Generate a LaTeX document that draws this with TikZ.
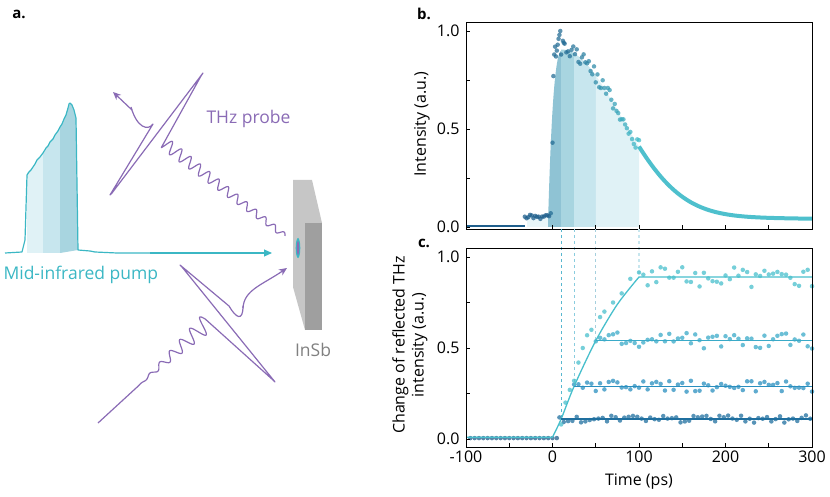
\documentclass[tikz,border=0pt]{standalone}
\usepackage{fontspec}
\setmainfont{Open Sans}
\usetikzlibrary{arrows.meta}
\definecolor{cA}{HTML}{1F5F8C}
\definecolor{cB}{HTML}{44BDCA}
\definecolor{pur}{HTML}{8A6BB5}
\definecolor{cyn}{HTML}{3BB7C4}
\definecolor{s1}{HTML}{8FC3D4}
\definecolor{s2}{HTML}{A8D5E0}
\definecolor{s3}{HTML}{C7E6EE}
\definecolor{s4}{HTML}{E0F2F6}
\definecolor{l1}{HTML}{1F6F9F}
\definecolor{l2}{HTML}{2A8FBF}
\definecolor{l3}{HTML}{3AAAC8}
\definecolor{l4}{HTML}{48BFCC}
\begin{document}
\begin{tikzpicture}[x=1pt,y=-1pt,
  declare function={bx(\t)=552.5+0.865*\t; by(\v)=227-196*\v; cy(\v)=439-182*\v;
    g(\t)=0.035+0.05*exp(-(\t-12)/150)+0.82*exp(-((\t-12)/95)^2);
    ua(\s)=2.5+0.025*\s; la(\s)=max(0,\s-55)*0.1;},
  lbl/.style={font=\fontsize{16}{19}\selectfont},
  albl/.style={font=\fontsize{17.5}{20}\selectfont},
  tick/.style={font=\fontsize{16}{19}\selectfont},
  panel/.style={font=\bfseries\fontsize{15}{18}\selectfont},
  wave/.style={pur,line width=1.2pt,line join=round},
  dot/.style={circle,inner sep=0pt,minimum size=4.5pt,opacity=0.75}]
\useasboundingbox (0,0) rectangle (830,497);
\pgfmathsetseed{7}
% ---------- panel labels
\node[panel] (pa) at (19,14) {a.};
\node[panel] (pb) at (424,14) {b.};
\node[panel] (pc) at (424,243) {c.};
% ---------- panel a: pump spectrum
\fill[s4] (27,253) -- (27,173) -- (35,164) -- (43,153) -- (43,253) -- cycle;
\fill[s3] (43,253) -- (43,153) -- (50,142) -- (55,135) -- (60,127) -- (60,253) -- cycle;
\fill[s2] (60,253) -- (60,127) -- (65,117) -- (68,108) -- (70,103) -- (72,105) -- (74,110) -- (76,118) -- (78,250) -- cycle;
\draw[cyn,line width=1.2pt,line join=round] (5,253) -- (22,252) -- (25,240) -- (27,175) -- (29,172) -- (31,170) -- (33,167) -- (35,164) -- (37,160) -- (40,157) -- (43,153) -- (46,148) -- (48,146) -- (50,142) -- (53,139) -- (55,135) -- (58,131) -- (60,127) -- (62,124) -- (64,119) -- (66,115) -- (68,108) -- (69,104) -- (70,103) -- (72,105) -- (74,110) -- (76,118) -- (78,250) -- (90,251) -- (95,252) -- (117,253) -- (150,253);
\coordinate (pumpS) at (150,253);
\coordinate (pumpE) at (272,253);
\draw[cyn,line width=1.2pt,-{Triangle[length=8pt,width=7pt]}] (pumpS) -- (pumpE);
\node[cyn,albl,anchor=west] (pump) at (0,275) {Mid-infrared pump};
% ---------- THz probe (upper, reflected)
\draw[wave] plot[domain=0:152,samples=300,smooth] ({285-0.792*\x+0.610*ua(\x)*sin(\x*30)},{236-0.610*\x-0.792*ua(\x)*sin(\x*30)})
  -- (201,76) -- (203,73) -- (112,193) -- (110,195) -- (153,124)
  .. controls (148,131) and (137,128) .. (131,107);
\draw[wave,-{Stealth[length=8pt,width=7pt]}] (132,110) -- (113,92);
\node[pur,albl,anchor=west] (thz) at (203,119) {THz probe};
% ---------- THz probe (lower, incident)
\draw[wave] plot[domain=0:149,samples=300,smooth] ({98+0.738*\x+0.678*la(\x)*sin(\x*24)},{423-0.678*\x+0.738*la(\x)*sin(\x*24)})
  -- (273,380) -- (275,382) -- (182,267) -- (180,265) -- (229,306)
  .. controls (236,318) and (243,322) .. (243,306);
\draw[wave,-{Stealth[length=8pt,width=7pt]}] (243,308) .. controls (244,290) and (262,285) .. (287,268);
% ---------- InSb
\fill[gray!45] (293,180) -- (312,180) -- (322,223) -- (305,223) -- (305,330) -- (293,287) -- cycle;
\fill[gray!75] (305,223) rectangle (322,330);
\fill[cyn] (298,248) ellipse (2.3pt and 10pt);
\fill[pur] (298,248) ellipse (1.1pt and 7pt);
\node[gray,albl] (insb) at (313,350) {InSb};
% ---------- panel b
\fill[s4!70] ({bx(-30)},{by(0)}) -- ({bx(-30)},{by(0.05)}) -- ({bx(-3)},{by(0.05)}) -- ({bx(-3)},{by(0)}) -- cycle;
\fill[s1] ({bx(-5)},{by(0)}) -- ({bx(-5)},{by(0.05)}) .. controls ({bx(-2)},{by(0.5)}) and ({bx(2)},{by(0.88)}) .. ({bx(10)},{by(0.9)}) -- ({bx(10)},{by(0)}) -- cycle;
\fill[s2] plot[domain=10:25,samples=10] ({bx(\x)},{by(g(\x))}) -- ({bx(25)},{by(0)}) -- ({bx(10)},{by(0)}) -- cycle;
\fill[s3] plot[domain=25:50,samples=10] ({bx(\x)},{by(g(\x))}) -- ({bx(50)},{by(0)}) -- ({bx(25)},{by(0)}) -- cycle;
\fill[s4] plot[domain=50:100,samples=15] ({bx(\x)},{by(g(\x))}) -- ({bx(100)},{by(0)}) -- ({bx(50)},{by(0)}) -- cycle;
\draw[cA,line width=2.5pt] ({bx(-100)},{by(0.005)}) -- ({bx(-32)},{by(0.005)});
\foreach \t in {-32,-30,...,-4} {\node[dot,fill=cA] at ({bx(\t)},{by(0.05+0.012*rand)}) {};}
\foreach \t/\v in {-2/0.07,0/0.43,1/0.77,2/0.88,3/0.92,4/0.87,5/0.9,6/0.93,7/0.96,8/0.98,9/1.0,10/0.88,12/0.95,13/0.94} {\node[dot,fill=cA!85!cB] at ({bx(\t)},{by(\v)}) {};}
\foreach \t in {14,16,...,100} {\pgfmathsetmacro\p{\t}\node[dot,fill=cB!\p!cA] at ({bx(\t)},{by(g(\t)+0.035*rand)}) {};}
\draw[cB,line width=4pt,opacity=0.95] plot[domain=100:300,samples=60,smooth] ({bx(\x)},{by(g(\x))});
\draw[line width=0.8pt] (466,22) rectangle (812,229);
\foreach \t in {0,50,...,300} {\draw[line width=0.6pt] ({bx(\t)},229) -- ({bx(\t)},225);}
\foreach \v in {0,0.25,0.5,0.75,1} {\draw[line width=0.6pt] (466,{by(\v)}) -- (470,{by(\v)});}
\foreach \v/\s in {0/0.0,0.5/0.5,1/1.0} {\node[tick,anchor=east] at (463,{by(\v)}) {\s};}
\node[lbl,rotate=90] (ylb) at (422,124) {Intensity (a.u.)};
% ---------- dashed guides
\foreach \t/\v/\c in {10/0.11/l3!85,25/0.29/l3!60,50/0.54/s1!80,100/0.89/s3} {\draw[\c,dashed,line width=1.1pt] ({bx(\t)},229) -- ({bx(\t)},{cy(\v)});}
% ---------- panel c
\foreach \t in {-95,-90,...,5} {\node[dot,fill=cA] at ({bx(\t)},{cy(0.005)}) {};}
\foreach \L/\ts/\c/\w in {0.11/8/l1/0.02,0.29/25/l2/0.03,0.54/50/l3/0.045,0.89/100/l4/0.06} {
  \pgfmathsetmacro\st{\ts+5}
  \foreach \t in {\ts,\st,...,300} {\node[dot,fill=\c] at ({bx(\t)},{cy(\L+\w*rand)}) {};}
}
\foreach \t/\v in {10/0.08,15/0.2,20/0.27,25/0.32,30/0.42,35/0.5,40/0.57,45/0.6,55/0.67,60/0.7,70/0.75,80/0.8,90/0.88} {\node[dot,fill=l4] at ({bx(\t)},{cy(\v)}) {};}
\draw[l4,line width=1.3pt] ({bx(-100)},{cy(0.01)}) -- ({bx(0)},{cy(0.01)}) plot[smooth] coordinates {({bx(0)},{cy(0.01)}) ({bx(10)},{cy(0.11)}) ({bx(25)},{cy(0.29)}) ({bx(50)},{cy(0.54)}) ({bx(75)},{cy(0.74)}) ({bx(100)},{cy(0.89)})} -- ({bx(300)},{cy(0.89)});
\draw[l1,line width=1.3pt] ({bx(10)},{cy(0.11)}) -- ({bx(300)},{cy(0.11)});
\draw[l2,line width=1.3pt] ({bx(25)},{cy(0.29)}) -- ({bx(300)},{cy(0.29)});
\draw[l3,line width=1.3pt] ({bx(50)},{cy(0.54)}) -- ({bx(300)},{cy(0.54)});
\draw[line width=0.8pt] (466,248) rectangle (812,447);
\foreach \t in {-50,0,50,...,300} {\draw[line width=0.6pt] ({bx(\t)},447) -- ({bx(\t)},443);}
\foreach \t in {-100,0,100,200,300} {\node[tick,anchor=north] at ({bx(\t)},447) {\t};}
\foreach \v in {0,0.25,0.5,0.75,1} {\draw[line width=0.6pt] (466,{cy(\v)}) -- (470,{cy(\v)});}
\foreach \v/\s in {0/0.0,0.5/0.5,1/1.0} {\node[tick,anchor=east] at (463,{cy(\v)}) {\s};}
\node[lbl,rotate=90,align=center,inner sep=0pt] (ylc) at (410,345) {Change of reflected THz\\intensity (a.u.)};
\node[lbl] (xl) at (639,482) {Time (ps)};
\end{tikzpicture}
\end{document}
